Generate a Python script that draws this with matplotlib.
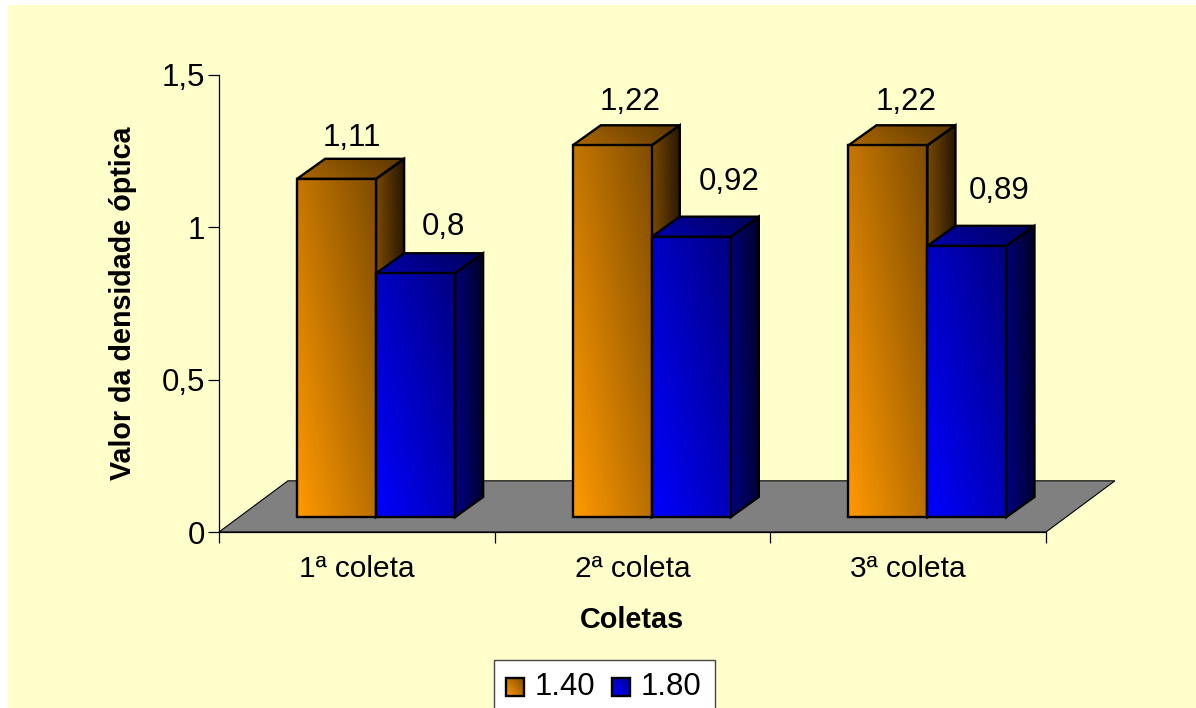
import numpy as np
import matplotlib
matplotlib.use("Agg")
import matplotlib.pyplot as plt
from matplotlib.patches import Polygon, Rectangle

plt.rcParams['font.family'] = ['Liberation Sans', 'DejaVu Sans']

coletas = ["1ª coleta", "2ª coleta", "3ª coleta"]
serie_140 = [1.11, 1.22, 1.22]
serie_180 = [0.80, 0.92, 0.89]
labels_140 = ["1,11", "1,22", "1,22"]
labels_180 = ["0,8", "0,92", "0,89"]
yticks = [0, 0.5, 1, 1.5]
ytick_labels = ["0", "0,5", "1", "1,5"]

# label nudges in pixels from the front left corner of the bar top
shift_140 = [(55, 41), (57, 43), (58, 43)]
shift_180 = [(67, 46), (78, 55), (72, 55)]

W, H = 1196, 708
BG = "#FFFFCC"

# 3d look, all in axis units
bar_w = 0.2866
bar_off = 0.283
floor_dy = 0.049
floor_dx = 0.25
floor_depth = 0.168
side_dx = 0.102
side_dy = 0.066


def px(x0, y0, x1, y1):
    return [x0 / W, 1 - y1 / H, (x1 - x0) / W, (y1 - y0) / H]


def gradient(ax, x0, y0, x1, y1, base, lo, hi, poly=None, zorder=3, wu=0.55):
    # diagonal shading, bright at bottom left
    u = np.linspace(0, 1, 64)
    v = np.linspace(0, 1, 64)
    uu, vv = np.meshgrid(u, v)
    t = hi + (lo - hi) * (wu * uu + (1 - wu) * vv)
    img = np.ones((64, 64, 3)) * np.array(base)[None, None, :] * t[:, :, None]
    im = ax.imshow(img, extent=(x0, x1, y0, y1), origin="lower", aspect="auto",
                   interpolation="bilinear", zorder=zorder)
    if poly is None:
        poly = [(x0, y0), (x1, y0), (x1, y1), (x0, y1)]
    clip = Polygon(poly, closed=True, transform=ax.transData, fc="none", ec="none")
    ax.add_patch(clip)
    im.set_clip_path(clip)
    im.set_clip_on(True)
    ax.add_patch(Polygon(poly, closed=True, fc="none", ec="black", lw=1.7,
                         joinstyle="miter", clip_on=False, zorder=zorder + 0.1))


def bar3d(ax, x, val, base, z):
    y0 = floor_dy
    y1 = floor_dy + val
    x1 = x + bar_w
    # right side
    side = [(x1, y0), (x1 + side_dx, y0 + side_dy), (x1 + side_dx, y1 + side_dy), (x1, y1)]
    gradient(ax, x1, y0, x1 + side_dx, y1 + side_dy, base, 0.14, 0.52, side, z, wu=0.85)
    # top
    top = [(x, y1), (x1, y1), (x1 + side_dx, y1 + side_dy), (x + side_dx, y1 + side_dy)]
    gradient(ax, x, y1, x1 + side_dx, y1 + side_dy, base, 0.35, 0.68, top, z, wu=0.8)
    # front
    gradient(ax, x, y0, x1, y1, base, 0.5, 1.0, None, z + 0.2)


fig = plt.figure(figsize=(W / 100, H / 100), dpi=100, facecolor="white")
fig.patches.append(Rectangle((8 / W, 0), 1 - 8 / W, 1 - 5 / H, transform=fig.transFigure,
                             fc=BG, ec="none", zorder=-10))

ax = fig.add_axes(px(219, 75, 1046, 532))
ax.set_facecolor("none")
ax.set_xlim(0, 3)
ax.set_ylim(0, 1.5)

ax.spines["top"].set_visible(False)
ax.spines["right"].set_visible(False)
ax.spines["left"].set_linewidth(0.9)
ax.spines["bottom"].set_linewidth(0.9)

ax.set_yticks(yticks)
ax.set_yticklabels(ytick_labels, fontsize=22.5, color="black", va="center_baseline")
ax.set_xticks([0, 1, 2, 3])
ax.set_xticklabels([])
ax.tick_params(axis="both", length=8, width=0.9, pad=2, direction="out")

for i, c in enumerate(coletas):
    ax.annotate(c, (i + 0.5, 0), xytext=(0, -16.5), textcoords="offset points",
                ha="center", va="top", fontsize=21.5)

# floor
ax.add_patch(Polygon([(0, 0), (3, 0), (3 + floor_dx, floor_depth), (floor_dx, floor_depth)],
                     closed=True, fc="#808080", ec="black", lw=0.8, clip_on=False, zorder=1))

ORANGE = (1.0, 0.6, 0.0)
BLUE = (0.0, 0.0, 1.0)
for i in range(len(coletas)):
    x = i + bar_off
    bar3d(ax, x, serie_140[i], ORANGE, 3)
    bar3d(ax, x + bar_w, serie_180[i], BLUE, 4)
    ax.annotate(labels_140[i], (x, floor_dy + serie_140[i]), xytext=shift_140[i],
                textcoords="offset pixels", ha="center", va="center", fontsize=22.5, zorder=6)
    ax.annotate(labels_180[i], (x + bar_w, floor_dy + serie_180[i]), xytext=shift_180[i],
                textcoords="offset pixels", ha="center", va="center", fontsize=22.5, zorder=6)

ax.set_xlim(0, 3)
ax.set_ylim(0, 1.5)

ax.set_ylabel("Valor da densidade óptica", fontsize=20.6, fontweight="bold", labelpad=18)
fig.text(632 / W, 1 - 620 / H, "Coletas", ha="center", va="center", fontsize=20.8, fontweight="bold")

# legend box, cut off by the lower edge
fig.patches.append(Rectangle((494 / W, -0.01), (715 - 494) / W, (708 - 660) / H + 0.01, transform=fig.transFigure,
                             fc="white", ec="#444444", lw=1.0, zorder=-5))
lax = fig.add_axes(px(506, 678, 524, 696))
lax.axis("off")
lax.set_xlim(0, 1)
lax.set_ylim(0, 1)
gradient(lax, 0, 0, 1, 1, ORANGE, 0.5, 1.0)
lax2 = fig.add_axes(px(612, 678, 630, 696))
lax2.axis("off")
lax2.set_xlim(0, 1)
lax2.set_ylim(0, 1)
gradient(lax2, 0, 0, 1, 1, BLUE, 0.6, 1.0)
fig.text(535 / W, 1 - 687 / H, "1.40", ha="left", va="center", fontsize=22.4, zorder=6)
fig.text(641 / W, 1 - 687 / H, "1.80", ha="left", va="center", fontsize=22.4, zorder=6)

fig.savefig("out.png", dpi=100, facecolor="white")
